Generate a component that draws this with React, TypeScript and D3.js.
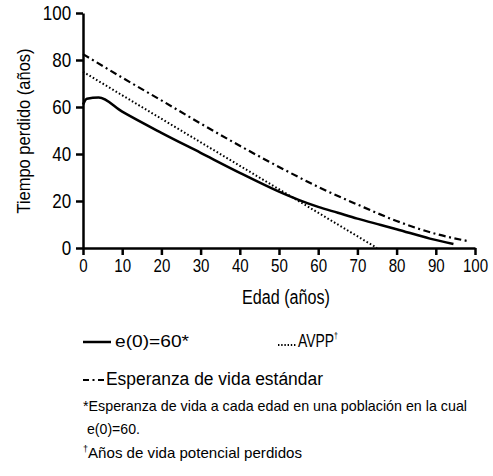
import React, { useEffect, useRef } from 'react';
import * as d3 from 'd3';

// e(0)=60 life expectancy at each age
const ageE60 = [0, 1, 4, 10, 20, 30, 40, 50, 55, 60, 65, 70, 76, 80, 88.5, 94.5];
const lossE60 = [61, 63.5, 64, 58, 49, 40.5, 32, 24, 20.5, 17.5, 15, 12.5, 9.8, 8, 4, 1.7];

// AVPP (limit 75)
const ageAvpp = [0, 75];
const lossAvpp = [75, 0];

// standard life expectancy
const ageStd = [0, 10, 20, 30, 40, 50, 60, 70, 80, 90, 98];
const lossStd = [82.5, 72.5, 62.8, 53, 43.5, 34.5, 26, 18.5, 11.5, 6, 3];

const xTicks = [0, 10, 20, 30, 40, 50, 60, 70, 80, 90, 100];
const yTicks = [0, 20, 40, 60, 80, 100];

const FONT = "'Liberation Sans', Arial, sans-serif";
const DASHDOT = '7 3.5 2 3.5';

const App = () => {
  const xAxisRef = useRef<SVGGElement>(null);
  const yAxisRef = useRef<SVGGElement>(null);

  const x = d3.scaleLinear().domain([0, 100]).range([83, 475]);
  const y = d3.scaleLinear().domain([0, 100]).range([248, 13]);

  const line = d3.line<[number, number]>()
    .x(d => x(d[0]))
    .y(d => y(d[1]))
    .curve(d3.curveMonotoneX);

  const zip = (a: number[], b: number[]) => a.map((v, i) => [v, b[i]] as [number, number]);

  useEffect(() => {
    const xa = d3.select(xAxisRef.current!);
    xa.selectAll('*').remove();
    xa.call(d3.axisBottom(x).tickValues(xTicks).tickSize(7).tickSizeOuter(0).tickPadding(4));
    xa.select('.domain').attr('stroke-width', 2.5);
    xa.selectAll('.tick line').attr('stroke-width', 2.5);
    xa.selectAll('.tick text').attr('font-size', 18).attr('font-family', FONT).attr('fill', '#000')
      .attr('transform', 'scale(0.84,1)');

    const ya = d3.select(yAxisRef.current!);
    ya.selectAll('*').remove();
    ya.call(d3.axisLeft(y).tickValues(yTicks).tickSize(7).tickSizeOuter(0).tickPadding(7));
    ya.select('.domain').attr('stroke-width', 2.5);
    ya.selectAll('.tick line').attr('stroke-width', 2.5);
    ya.selectAll('.tick text').attr('font-size', 20).attr('font-family', FONT).attr('fill', '#000')
      .attr('transform', 'scale(0.85,1)');
  }, []);

  return (
    <svg width={493} height={476} style={{ position: 'absolute', left: 0, top: 0, background: '#fff' }}
      fontFamily={FONT}>
      <path d={line(zip(ageStd, lossStd)) || ''} fill="none" stroke="#000" strokeWidth={2.2}
        strokeDasharray={DASHDOT} />
      <path d={line(zip(ageAvpp, lossAvpp)) || ''} fill="none" stroke="#000" strokeWidth={2}
        strokeDasharray="1.6 2.2" />
      <path d={line(zip(ageE60, lossE60)) || ''} fill="none" stroke="#000" strokeWidth={2.5} />

      <g ref={yAxisRef} transform={`translate(${x(0)},0)`} />
      <g ref={xAxisRef} transform={`translate(0,${y(0)})`} />

      <text transform={`translate(30,${131}) rotate(-90)`} textAnchor="middle"
        fontSize={19} textLength={165} lengthAdjust="spacingAndGlyphs">Tiempo perdido (años)</text>
      <text x={286} y={304} textAnchor="middle" fontSize={20} textLength={88}
        lengthAdjust="spacingAndGlyphs">Edad (años)</text>

      {/* legend */}
      <line x1={83} x2={111} y1={342} y2={342} stroke="#000" strokeWidth={2.5} />
      <text x={115} y={347} fontSize={17} textLength={74} lengthAdjust="spacingAndGlyphs">e(0)=60*</text>
      <line x1={278} x2={297} y1={345} y2={345} stroke="#000" strokeWidth={1.8} strokeDasharray="1.4 1.8" />
      <text x={298} y={347} fontSize={18} textLength={40} lengthAdjust="spacingAndGlyphs">
        AVPP<tspan fontSize={9} dy={-8}>†</tspan>
      </text>

      <line x1={83} x2={104} y1={380} y2={380} stroke="#000" strokeWidth={2.2} strokeDasharray="6 3.5 2 3.5" />
      <text x={106} y={385} fontSize={18} textLength={217} lengthAdjust="spacingAndGlyphs">Esperanza de vida estándar</text>

      {/* footnotes */}
      <text x={83} y={411} fontSize={15} textLength={384} lengthAdjust="spacingAndGlyphs">*Esperanza de vida a cada edad en una población en la cual</text>
      <text x={87} y={434} fontSize={15} textLength={53} lengthAdjust="spacingAndGlyphs">e(0)=60.</text>
      <text x={83} y={458} fontSize={15} textLength={219} lengthAdjust="spacingAndGlyphs">
        <tspan fontSize={9} dy={-6}>†</tspan><tspan dy={6}>Años de vida potencial perdidos</tspan>
      </text>
    </svg>
  );
};

export default App;
